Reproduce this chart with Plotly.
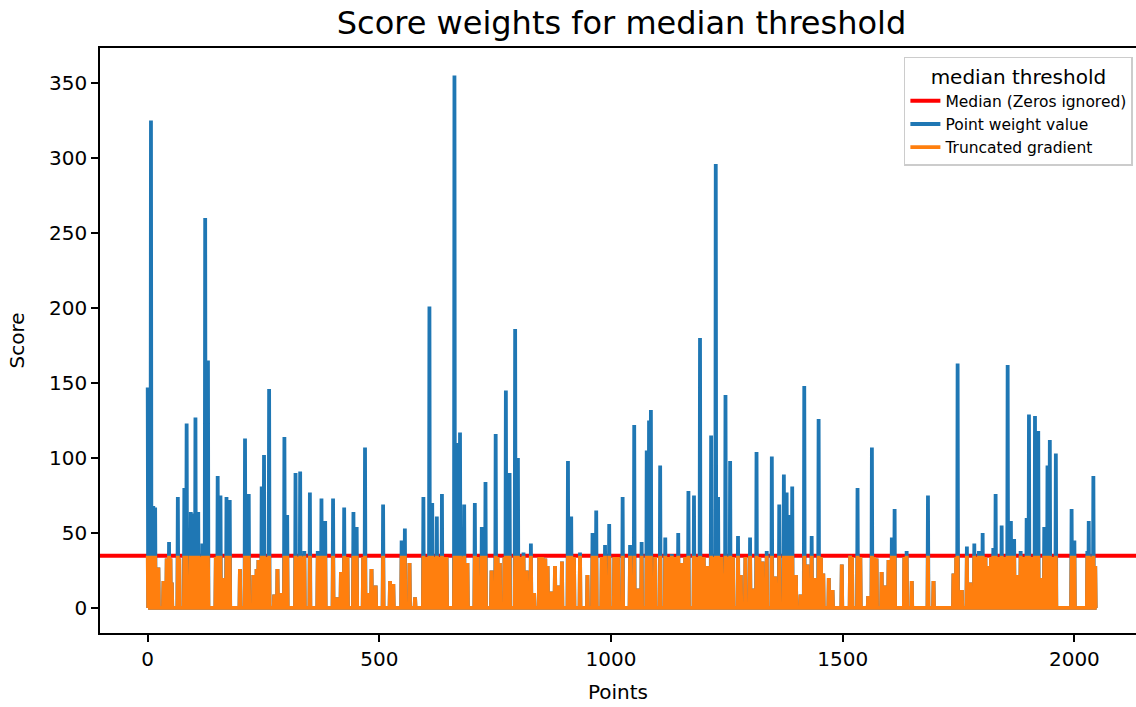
import numpy as np
import plotly.graph_objects as go

N_POINTS = 2048
MEDIAN = 34.8

# (index, score) readings of the non-zero points
point_idx = [
    0, 2, 4, 7, 12, 16, 23, 34, 37, 41, 46, 49, 52, 65, 68, 79, 84, 93, 97, 103, 109, 113, 118, 121, 124, 130,
    147, 151, 157, 162, 170, 174, 177, 199, 210, 214, 218, 228, 235, 239,
    246, 251, 255, 262, 273, 280, 289, 295, 301, 319, 324, 329, 334, 338, 350, 367, 371, 375, 379, 383,
    400, 408, 417, 424, 427, 431, 444, 447, 451, 465, 469, 476, 483, 492, 508,
    523, 530, 548, 551, 555, 565, 577, 595, 600, 608, 614, 619, 624, 629, 635, 640, 645,
    662, 665, 668, 674, 678, 683, 690, 706, 712, 721, 725, 729, 742, 751, 755, 760, 770, 773, 781,
    793, 799, 804, 811, 818, 827, 834, 845, 852, 858, 863, 872, 879, 886, 894, 907, 914, 920, 933,
    949, 960, 968, 980, 987, 996, 1007, 1015, 1025, 1041, 1050,
    1059, 1066, 1077, 1082, 1086, 1095, 1106, 1117, 1124, 1131, 1138, 1145, 1152, 1160, 1167, 1179,
    1185, 1192, 1200, 1208, 1216, 1221, 1226, 1231, 1238, 1243, 1247, 1252, 1257, 1263, 1274, 1280,
    1290, 1300, 1309, 1314, 1320, 1327, 1336, 1347, 1354, 1363, 1373, 1379, 1386, 1391, 1399, 1409,
    1417, 1424, 1433, 1440, 1448, 1453, 1458, 1470, 1478, 1498, 1516, 1520, 1532, 1538, 1555, 1563,
    1568, 1573, 1584, 1591, 1599, 1606, 1612, 1633, 1638, 1649, 1684, 1696, 1739, 1745, 1748, 1757,
    1768, 1775, 1784, 1790, 1794, 1802, 1808, 1814, 1820, 1825, 1830, 1836, 1843, 1849, 1856,
    1863, 1870, 1877, 1884, 1890, 1897, 1902, 1908, 1915, 1922, 1928, 1935, 1942, 1947, 1953, 1960,
    1994, 2000, 2028, 2031, 2036, 2041, 2045,
]
point_score = [
    147, 147, 140, 325, 68, 67, 27, 18, 18, 33, 44, 33, 17, 74, 33, 80, 123, 64, 63, 127, 64, 34, 43, 34, 260, 165,
    34, 88, 75, 20, 74, 34, 72, 26, 113, 34, 76, 22, 26, 32,
    81, 102, 34, 146, 9, 26, 10, 114, 62, 90, 34, 91, 34, 38, 77, 38, 34, 73, 34, 58,
    73, 7, 24, 67, 34, 34, 64, 34, 54, 34, 107, 10, 26, 15, 69,
    18, 16, 45, 34, 53, 30, 7, 74, 34, 201, 70, 34, 61, 34, 76, 34, 34,
    355, 34, 110, 117, 34, 69, 30, 70, 34, 54, 34, 84, 25, 116, 34, 30, 34, 145, 90,
    186, 100, 34, 37, 25, 43, 10, 34, 34, 33, 28, 11, 28, 15, 31, 98, 61, 34, 37,
    22, 50, 65, 34, 42, 56, 34, 34, 74, 42, 122,
    13, 44, 105, 125, 132, 34, 95, 47, 34, 36, 34, 50, 30, 34, 78, 75,
    34, 180, 34, 28, 115, 34, 296, 74, 34, 23, 142, 34, 98, 34, 48, 22,
    34, 47, 13, 104, 34, 31, 38, 101, 21, 69, 89, 77, 62, 81, 22, 9,
    148, 29, 48, 20, 126, 34, 23, 20, 12, 29, 35, 34, 80, 34, 8, 107,
    34, 33, 24, 15, 32, 47, 66, 34, 38, 18, 75, 18, 23, 34, 163, 12,
    41, 17, 43, 34, 38, 50, 34, 28, 34, 40, 76, 34, 55, 34, 162,
    58, 46, 22, 38, 34, 60, 129, 34, 128, 118, 20, 54, 95, 112, 34, 103,
    66, 45, 38, 58, 34, 88, 28,
]

x_tick_vals = [0, 500, 1000, 1500, 2000]
y_tick_vals = [0, 50, 100, 150, 200, 250, 300, 350]

points = np.arange(N_POINTS)
score = np.zeros(N_POINTS)
score[np.array(point_idx)] = np.array(point_score, dtype=float)
truncated = np.minimum(score, MEDIAN)

X_RANGE = [-103, 2133]
Y_RANGE = [-16.7, 373.3]

FONT = "DejaVu Sans"

fig = go.Figure()
fig.add_trace(go.Scatter(
    x=X_RANGE, y=[MEDIAN, MEDIAN], mode="lines",
    line=dict(color="#ff0000", width=4),
    name="Median (Zeros ignored)",
))
fig.add_trace(go.Scatter(
    x=points, y=score, mode="lines",
    line=dict(color="#1f77b4", width=3.8, simplify=False),
    name="Point weight value",
))
fig.add_trace(go.Scatter(
    x=points, y=truncated, mode="lines",
    line=dict(color="#ff7f0e", width=3.8, simplify=False),
    name="Truncated gradient",
))

fig.update_layout(
    width=1136, height=707,
    margin=dict(l=100, r=0, t=48, b=74),
    paper_bgcolor="white", plot_bgcolor="white",
    font=dict(family=FONT, color="black", size=20),
    title=dict(
        text="Score weights for median threshold",
        font=dict(family=FONT, size=32, color="black"),
        x=(100 + 1143) / 2 / 1136, xanchor="center",
        y=1 - 23 / 707, yanchor="middle",
    ),
    showlegend=True,
    legend=dict(
        title=dict(text="median threshold", side="top center",
                   font=dict(family=FONT, size=20, color="black")),
        font=dict(family=FONT, size=15.5, color="black"),
        x=0.997, xanchor="right", y=0.985, yanchor="top",
        bgcolor="rgba(255,255,255,0.8)", bordercolor="#cccccc", borderwidth=1.5,
        tracegroupgap=0, itemwidth=30,
    ),
)

fig.update_xaxes(
    range=X_RANGE, tickvals=x_tick_vals, ticktext=[str(v) for v in x_tick_vals],
    showgrid=False, zeroline=False,
    showline=True, linecolor="black", linewidth=1.6, mirror=True,
    ticks="outside", ticklen=7, tickwidth=1.6, tickcolor="black",
    tickfont=dict(family=FONT, size=20, color="black"),
    title=dict(text="Points", font=dict(family=FONT, size=20, color="black"), standoff=15),
)
fig.update_yaxes(
    range=Y_RANGE, tickvals=y_tick_vals, ticktext=[str(v) for v in y_tick_vals],
    showgrid=False, zeroline=False,
    showline=True, linecolor="black", linewidth=1.6, mirror=False,
    ticks="outside", ticklen=7, tickwidth=1.6, tickcolor="black",
    tickfont=dict(family=FONT, size=20, color="black"),
    title=dict(text="Score", font=dict(family=FONT, size=20, color="black"), standoff=19),
)

fig.write_html("out.html")
